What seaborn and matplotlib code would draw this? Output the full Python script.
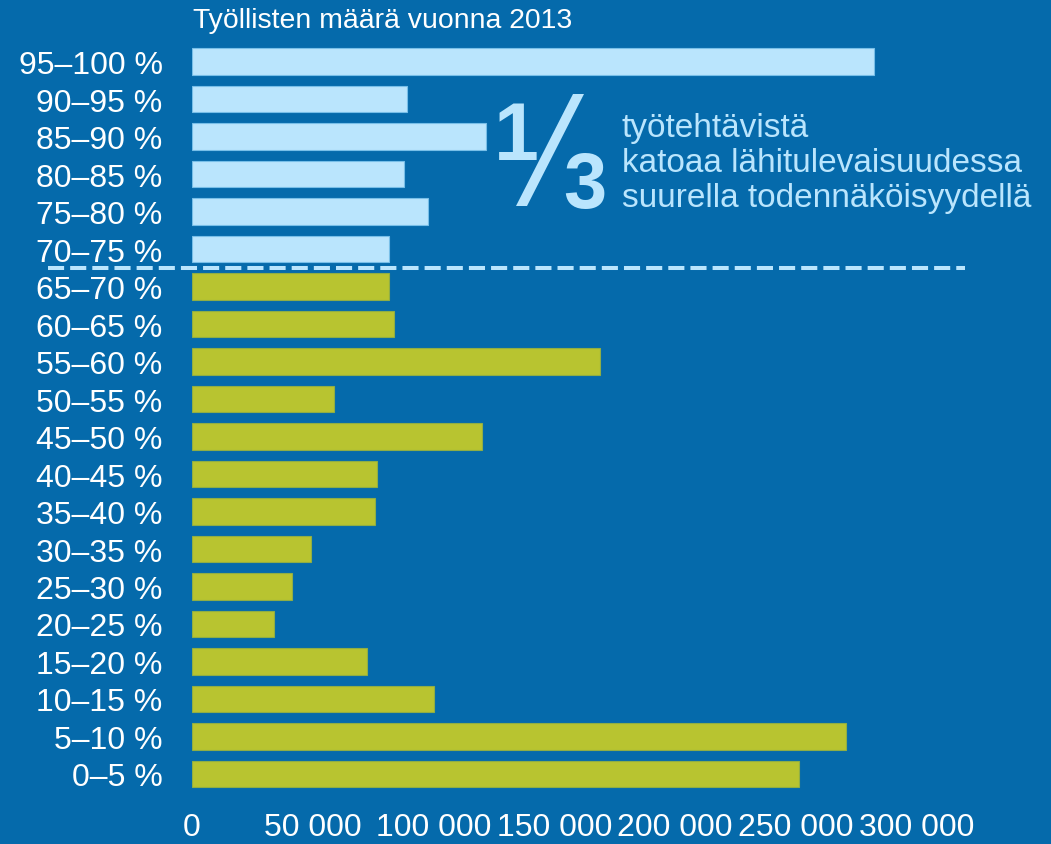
import matplotlib
matplotlib.use('Agg')
import matplotlib.pyplot as plt
import seaborn as sns
import pandas as pd
from matplotlib.patches import Polygon

# automation risk bands (top to bottom) and number of employed, 2013
ranges = ['95–100 %', '90–95 %', '85–90 %', '80–85 %', '75–80 %', '70–75 %',
          '65–70 %', '60–65 %', '55–60 %', '50–55 %', '45–50 %', '40–45 %',
          '35–40 %', '30–35 %', '25–30 %', '20–25 %', '15–20 %', '10–15 %',
          '5–10 %', '0–5 %']
workers = [282200, 88900, 121600, 87900, 97600, 81500,
           81700, 83800, 169000, 59000, 120100, 76500,
           75800, 49200, 41400, 34200, 72600, 100200,
           270500, 251200]
groups = ['high'] * 6 + ['low'] * 14
x_ticks = [0, 50000, 100000, 150000, 200000, 250000, 300000]
x_tick_labels = ['0', '50 000', '100 000', '150 000', '200 000', '250 000', '300 000']

BG = '#056aab'
LIGHT = '#bae5fd'
GREEN = '#b8c430'

df = pd.DataFrame({'range': ranges, 'workers': workers, 'group': groups})

sns.set_theme(style='white')
plt.rcParams['font.family'] = ['Liberation Sans', 'DejaVu Sans']

W, H = 1051, 845
fig = plt.figure(figsize=(W / 100, H / 100), dpi=100, facecolor=BG)
ax = fig.add_axes([191.7 / W, (H - 793.7) / H, 725.3 / W, 749.8 / H])
ax.set_facecolor(BG)

sns.barplot(data=df, x='workers', y='range', hue='group',
            palette={'high': LIGHT, 'low': GREEN}, dodge=False, width=0.71,
            saturation=1, legend=False, ax=ax)

# thin darker outline like the original
for p in ax.patches:
    fc = matplotlib.colors.to_hex(p.get_facecolor())
    p.set_edgecolor('#78bfe8' if fc == LIGHT else '#8fae45')
    p.set_linewidth(0.8)

for s in ax.spines.values():
    s.set_visible(False)
ax.set_xlim(0, 300000)
ax.set_ylim(19.5, -0.5)
ax.set_xticks(x_ticks)
ax.set_xticklabels(x_tick_labels)
ax.set_xlabel('')
ax.set_ylabel('')
ax.tick_params(axis='x', length=0, labelsize=23, colors='white', pad=14)
ax.tick_params(axis='y', length=0, labelsize=23, colors='white', pad=21)

# threshold line between 70-75 % and 65-70 %
ax.axhline(5.5, xmin=(48 - 191.7) / 725.3, xmax=(965 - 191.7) / 725.3,
           color=LIGHT, lw=2.9, ls=(0, (4, 1.5)), clip_on=False,
           dash_capstyle='butt')

fig.text(193 / W, 1 - 21 / H, 'Työllisten määrä vuonna 2013', fontsize=20.4,
         color='white', ha='left', va='center')

# "1/3" callout
fig.text(516 / W, 1 - 160 / H, '1', fontsize=58, fontweight='bold',
         color=LIGHT, ha='center', va='baseline')
fig.text(585 / W, 1 - 208 / H, '3', fontsize=56, fontweight='bold',
         color=LIGHT, ha='center', va='baseline')
slash = [(516, 207), (527, 207), (584, 95), (573, 95)]
fig.add_artist(Polygon([(x / W, 1 - y / H) for x, y in slash], closed=True,
                       transform=fig.transFigure, color=LIGHT, lw=0))
lines = ['työtehtävistä', 'katoaa lähitulevaisuudessa', 'suurella todennäköisyydellä']
for txt, base in zip(lines, [137, 172, 207]):
    fig.text(622 / W, 1 - base / H, txt, fontsize=24, color=LIGHT,
             ha='left', va='baseline')

fig.savefig('out.png', dpi=100, facecolor=BG)
